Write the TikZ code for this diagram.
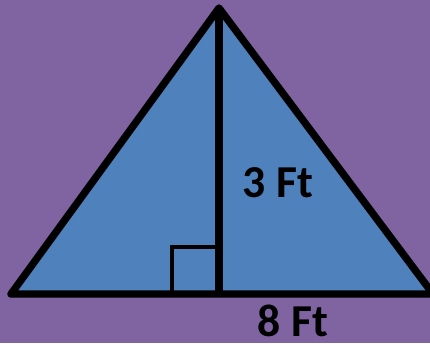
\documentclass[tikz,border=0pt]{standalone}
\usepackage{fontspec}
\setmainfont{Carlito}
\usepackage{xcolor}
\usetikzlibrary{calc}

\definecolor{bgpurple}{HTML}{8064A2}
\definecolor{triblue}{HTML}{4F81BD}

\begin{document}
\begin{tikzpicture}[
  side/.style={line width=4.2pt, line join=round},
  anglemark/.style={line width=2.6pt},
  dimlabel/.style={font=\fontsize{26}{30}\selectfont\bfseries, inner sep=0pt},
]
  % Background
  \useasboundingbox (0,0) rectangle (8.6,6.86);
  \clip (0,0) rectangle (8.6,6.86);
  \fill[bgpurple] (0,0) rectangle (8.6,6.86);

  % Triangle corners
  \coordinate (apex)  at (4.38, 6.70);
  \coordinate (left)  at (0.22, 0.98);
  \coordinate (right) at (8.66, 0.98);
  \coordinate (foot)  at (4.38, 0.98);
  \coordinate (sq)    at (3.44, 1.92);

  % Triangle
  \draw[side, fill=triblue] (left) -- (apex) -- (right) -- cycle;

  % Right angle mark
  \draw[anglemark] (sq |- foot) -- (sq) -- (sq -| foot);

  % Height
  \draw[side] (apex) -- (foot);

  % Labels
  \node[dimlabel] (height) at (5.56, 3.20) {3 Ft};
  \node[dimlabel] (base)   at (5.86, 0.44) {8 Ft};
\end{tikzpicture}
\end{document}
